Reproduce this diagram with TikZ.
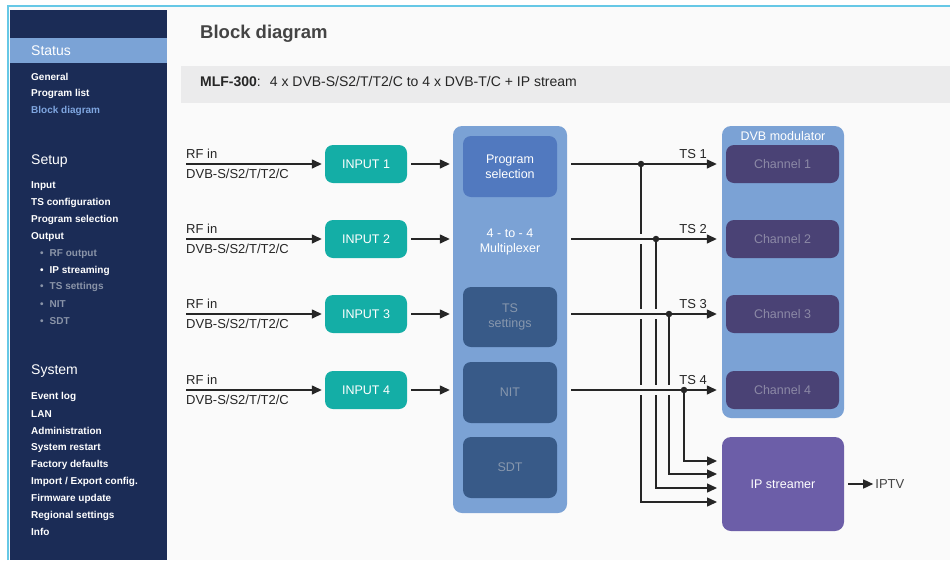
\documentclass[tikz,border=0pt]{standalone}
\usepackage{fontspec}
\setmainfont{Liberation Sans}
\usetikzlibrary{arrows.meta,positioning}

\definecolor{pagebg}{HTML}{FAFAFA}
\definecolor{framecyan}{HTML}{66C8E6}
\definecolor{navy}{HTML}{1B2C56}
\definecolor{statusblue}{HTML}{7BA3D6}
\definecolor{linkblue}{HTML}{7FA6E0}
\definecolor{subgray}{HTML}{8A94A8}
\definecolor{bandgray}{HTML}{EBEBEC}
\definecolor{titlegray}{HTML}{444444}
\definecolor{inteal}{HTML}{14AEA6}
\definecolor{muxblue}{HTML}{7BA2D5}
\definecolor{selblue}{HTML}{5179BF}
\definecolor{darkblue}{HTML}{385A88}
\definecolor{darktext}{HTML}{8797AD}
\definecolor{chpurple}{HTML}{4A4275}
\definecolor{chtext}{HTML}{8C89A6}
\definecolor{ippurple}{HTML}{6C5EA8}
\definecolor{wire}{HTML}{262626}

\tikzset{
  menu/.style={anchor=west, inner sep=0pt, text=white,
    font=\bfseries\fontsize{10}{12}\selectfont},
  submenu/.style={menu, text=subgray},
  menuhead/.style={anchor=west, inner sep=0pt, text=white,
    font=\fontsize{14}{16}\selectfont},
  lbl/.style={anchor=base west, inner sep=0pt, text=wire,
    font=\fontsize{13}{15}\selectfont},
  block/.style={rounded corners=8pt, inner sep=0pt, text=white,
    font=\fontsize{12.5}{15}\selectfont, align=center},
  arr/.style={draw=wire, line width=1.4pt,
    -{Triangle[length=10pt,width=9pt]}},
  gap/.style={draw=pagebg, line width=10pt},
  dot/.style={circle, fill=wire, inner sep=0pt, minimum size=6.5pt}
}

\begin{document}
\begin{tikzpicture}[x=1pt, y=-1pt]
    \useasboundingbox (0,0) rectangle (950,560);
    % Page and sidebar
    \fill[white] (0,0) rectangle (950,560);
    \fill[pagebg] (9,7) rectangle (950,560);
    \draw[framecyan, line width=2pt] (8,560) -- (8,6) -- (950,6);
    \fill[navy] (10,10) rectangle (167,560);
    \fill[statusblue] (10,38) rectangle (167,63); % Status band
    \node[menuhead] (status) at (31,51) {Status};
    \node[menu] (general) at (31,77) {General};
    \node[menu] (proglist) at (31,94) {Program list};
    \node[menu, text=linkblue] (blockdia) at (31,111) {Block diagram};
    \node[menuhead] (setup) at (31,161) {Setup};
    \node[menu] (input) at (31,186) {Input};
    \node[menu] (tsconf) at (31,203) {TS configuration};
    \node[menu] (progsel) at (31,220) {Program selection};
    \node[menu] (output) at (31,237) {Output};
    \node[submenu] (rfout) at (40,254) {\textbullet\hspace{6pt}RF output};
    \node[menu] (ipstream) at (40,271) {\textbullet\hspace{6pt}IP streaming};
    \node[submenu] (tsset) at (40,287) {\textbullet\hspace{6pt}TS settings};
    \node[submenu] (nitm) at (40,304) {\textbullet\hspace{6pt}NIT};
    \node[submenu] (sdtm) at (40,321) {\textbullet\hspace{6pt}SDT};
    \node[menuhead] (system) at (31,371) {System};
    \node[menu] (evlog) at (31,397) {Event log};
    \node[menu] (lan) at (31,414) {LAN};
    \node[menu] (admin) at (31,431) {Administration};
    \node[menu] (restart) at (31,448) {System restart};
    \node[menu] (factory) at (31,465) {Factory defaults};
    \node[menu] (impexp) at (31,482) {Import / Export config.};
    \node[menu] (firmware) at (31,499) {Firmware update};
    \node[menu] (regional) at (31,516) {Regional settings};
    \node[menu] (info) at (31,532) {Info};
    % Title and device band
    \node[anchor=west, inner sep=0pt, text=titlegray,
      font=\bfseries\fontsize{18.5}{20}\selectfont] (title) at (200,34) {Block diagram};
    \fill[bandgray] (181,66) rectangle (950,103);
    \node[anchor=west, inner sep=0pt, text=wire,
      font=\fontsize{14}{16}\selectfont] (model) at (200,82)
      {\textbf{MLF-300}:\hspace{9pt}4 x DVB-S/S2/T/T2/C to 4 x DVB-T/C + IP stream};
    % Blocks
    \node[block, fill=muxblue, rounded corners=9pt, minimum width=114pt,
      minimum height=387pt] (mux) at (510,319.5) {};
    \node[block, fill=selblue, minimum width=94pt, minimum height=61pt]
      (psel) at (510,166.5) {Program\\selection};
    \node[block] (mtext) at (510,242) {4 - to - 4\\Multiplexer};
    \node[block, fill=darkblue, text=darktext, minimum width=94pt,
      minimum height=60pt] (tsbox) at (510,317) {TS\\settings};
    \node[block, fill=darkblue, text=darktext, minimum width=94pt,
      minimum height=61pt] (nit) at (510,392.5) {NIT};
    \node[block, fill=darkblue, text=darktext, minimum width=94pt,
      minimum height=61pt] (sdt) at (510,467.5) {SDT};
    \node[block, fill=muxblue, rounded corners=9pt, minimum width=122pt,
      minimum height=292pt] (mod) at (783,272) {};
    \node[block] (modtext) at (783,136) {DVB modulator};
    \node[block, fill=chpurple, text=chtext, minimum width=113pt,
      minimum height=38pt] (ch1) at (782.5,164) {Channel 1};
    \node[block, fill=chpurple, text=chtext, minimum width=113pt,
      minimum height=38pt] (ch2) at (782.5,239) {Channel 2};
    \node[block, fill=chpurple, text=chtext, minimum width=113pt,
      minimum height=38pt] (ch3) at (782.5,314) {Channel 3};
    \node[block, fill=chpurple, text=chtext, minimum width=113pt,
      minimum height=38pt] (ch4) at (782.5,390) {Channel 4};
    \node[block, fill=ippurple, rounded corners=9pt, minimum width=122pt,
      minimum height=94pt] (ips) at (783,484) {IP streamer};
    % Inputs
    \node[block, fill=inteal, minimum width=82pt, minimum height=38pt]
      (in1) at (366,164) {INPUT 1};
    \node[block, fill=inteal, minimum width=82pt, minimum height=38pt]
      (in2) at (366,239) {INPUT 2};
    \node[block, fill=inteal, minimum width=82pt, minimum height=38pt]
      (in3) at (366,314) {INPUT 3};
    \node[block, fill=inteal, minimum width=82pt, minimum height=38pt]
      (in4) at (366,390) {INPUT 4};
    \coordinate (rf1) at (186,164);
    \coordinate (rf2) at (186,239);
    \coordinate (rf3) at (186,314);
    \coordinate (rf4) at (186,390);
    \node[lbl] (rfa1) at (186,158) {RF in};
    \node[lbl] (rfb1) at (186,178) {DVB-S/S2/T/T2/C};
    \node[lbl] (rfa2) at (186,233) {RF in};
    \node[lbl] (rfb2) at (186,253) {DVB-S/S2/T/T2/C};
    \node[lbl] (rfa3) at (186,308) {RF in};
    \node[lbl] (rfb3) at (186,328) {DVB-S/S2/T/T2/C};
    \node[lbl] (rfa4) at (186,384) {RF in};
    \node[lbl] (rfb4) at (186,404) {DVB-S/S2/T/T2/C};
    \draw[arr, shorten >=3pt] (rf1) -- (in1.west);
    \draw[arr, shorten >=3pt] (rf2) -- (in2.west);
    \draw[arr, shorten >=3pt] (rf3) -- (in3.west);
    \draw[arr, shorten >=3pt] (rf4) -- (in4.west);
    \draw[arr, shorten <=4pt, shorten >=3pt] (in1.east) -- (mux.west |- in1);
    \draw[arr, shorten <=4pt, shorten >=3pt] (in2.east) -- (mux.west |- in2);
    \draw[arr, shorten <=4pt, shorten >=3pt] (in3.east) -- (mux.west |- in3);
    \draw[arr, shorten <=4pt, shorten >=3pt] (in4.east) -- (mux.west |- in4);
    % Taps to IP streamer
    \coordinate (d1) at (641,164);
    \coordinate (d2) at (656,239);
    \coordinate (d3) at (669,314);
    \coordinate (d4) at (684,390);
    \coordinate (ip1) at (717,502);
    \coordinate (ip2) at (717,488);
    \coordinate (ip3) at (717,474);
    \coordinate (ip4) at (717,461);
    \draw[arr] (d1) |- (ip1);
    \draw[arr] (d2) |- (ip2);
    \draw[arr] (d3) |- (ip3);
    \draw[arr] (d4) |- (ip4);
    \draw[gap] (d1 |- d2) ++(-5,0) -- ([xshift=-2pt]d2); % line jumps
    \draw[gap] (d1 |- d3) ++(-5,0) -- ([xshift=-2pt]d3);
    \draw[gap] (d1 |- d4) ++(-5,0) -- ([xshift=-2pt]d4);
    % TS outputs
    \draw[arr, shorten >=5pt] ([xshift=4pt]mux.east |- in1) -- (mod.west |- ch1);
    \draw[arr, shorten >=5pt] ([xshift=4pt]mux.east |- in2) -- (mod.west |- ch2);
    \draw[arr, shorten >=5pt] ([xshift=4pt]mux.east |- in3) -- (mod.west |- ch3);
    \draw[arr, shorten >=5pt] ([xshift=4pt]mux.east |- in4) -- (mod.west |- ch4);
    \node[dot] (dot1) at (d1) {};
    \node[dot] (dot2) at (d2) {};
    \node[dot] (dot3) at (d3) {};
    \node[dot] (dot4) at (d4) {};
    \node[lbl, anchor=base east] (ts1) at (707,158) {TS 1};
    \node[lbl, anchor=base east] (ts2) at (707,233) {TS 2};
    \node[lbl, anchor=base east] (ts3) at (707,308) {TS 3};
    \node[lbl, anchor=base east] (ts4) at (707,384) {TS 4};
    % IPTV out
    \draw[arr, shorten <=4pt] (ips.east) -- ++(29,0) coordinate (iptvin);
    \node[lbl, anchor=west, text=titlegray] (iptv) at ([xshift=2pt]iptvin) {IPTV};
\end{tikzpicture}
\end{document}
